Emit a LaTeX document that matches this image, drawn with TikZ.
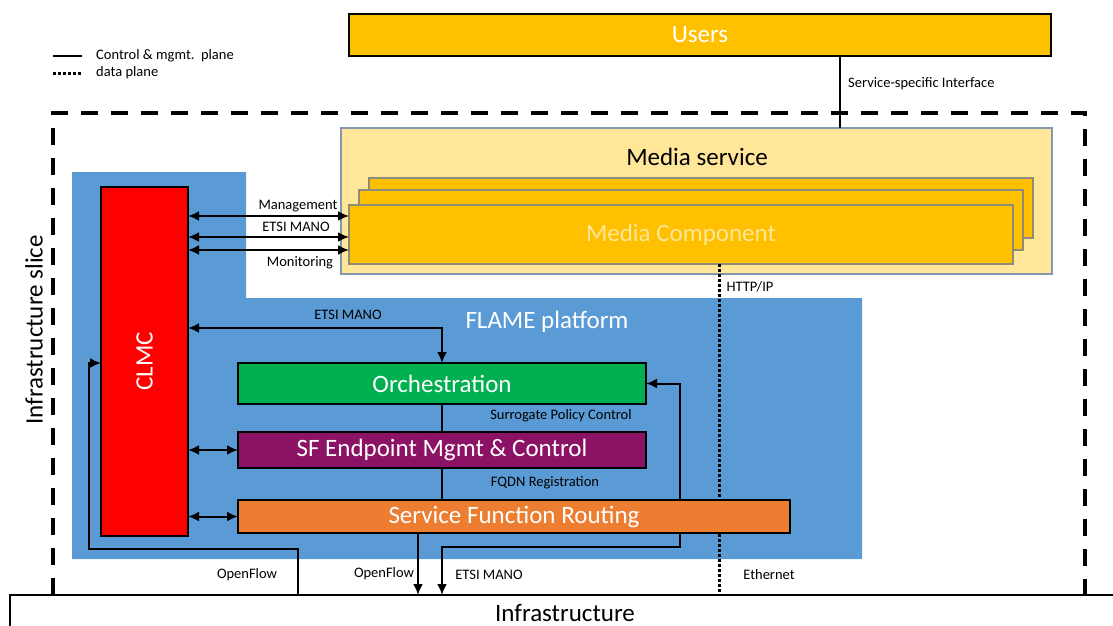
\documentclass[tikz,border=0pt]{standalone}
\usepackage{fontspec}
\setmainfont{Carlito}
\usetikzlibrary{arrows.meta}

\definecolor{usersyellow}{HTML}{FFC000}
\definecolor{mslight}{HTML}{FFE699}
\definecolor{msborder}{RGB}{132,151,176}
\definecolor{mcborder}{RGB}{140,140,120}
\definecolor{flameblue}{HTML}{5B9BD5}
\definecolor{clmcred}{HTML}{FF0000}
\definecolor{orchgreen}{HTML}{00B050}
\definecolor{sfepurple}{HTML}{8C1266}
\definecolor{sfrorange}{HTML}{ED7D31}

\tikzset{
  big/.style={inner sep=0pt, font=\fontsize{25}{30}\selectfont},
  lbl/.style={inner sep=0pt, font=\fontsize{14.5}{17}\selectfont},
  block/.style={draw=black, line width=1.5pt, rectangle, inner sep=0pt, outer sep=0pt,
    anchor=north west, text=white, font=\fontsize{25}{30}\selectfont},
  mcbox/.style={block, draw=mcborder, fill=usersyellow, minimum width=664pt, minimum height=60pt},
  ctl/.style={line width=2pt, black},
  both/.style={{Latex[length=11pt,width=10pt]}-{Latex[length=11pt,width=10pt]}},
  tip/.style={-{Latex[length=11pt,width=10pt]}},
  dataline/.style={line width=3pt, dash pattern=on 2.5pt off 2.5pt},
  slice/.style={line width=4pt, dash pattern=on 17pt off 13pt},
}

\begin{document}
\begin{tikzpicture}[x=1pt,y=-1pt]
  \useasboundingbox (0,0) rectangle (1113,626);

  % legend
  \coordinate (lg1a) at (53,56);
  \coordinate (lg1b) at (82,56);
  \coordinate (lg2a) at (53,73);
  \coordinate (lg2b) at (82,73);
  \draw[ctl] (lg1a) -- (lg1b);
  \draw[dataline] (lg2a) -- (lg2b);
  \node[lbl, anchor=west] (lgctl) at (96,56) {Control \& mgmt.\ \ plane};
  \node[lbl, anchor=west] (lgdata) at (96,73) {data plane};

  % infrastructure slice
  \draw[slice] (53,595) -- (53,113) -- (1085,113) -- (1085,595);
  \node[big, rotate=90] (slicetext) at (34,330) {Infrastructure slice};

  % FLAME platform area
  \fill[flameblue] (72,172) -- (246,172) -- (246,298) -- (862,298) -- (862,559) -- (72,559) -- cycle;
  \node[big, white] (flametext) at (547,322) {FLAME platform};

  % users and media service
  \node[block, fill=usersyellow, minimum width=702pt, minimum height=42pt] (users) at (349,14) {Users};
  \node[block, draw=msborder, fill=mslight, minimum width=711pt, minimum height=146pt] (ms) at (341,128) {};
  \node[big] (mstitle) at (697,157) {Media service};
  \node[mcbox] (mc3) at (369,178) {};
  \node[mcbox] (mc2) at (359,190) {};
  \node[mcbox, text=mslight, minimum height=59pt] (mc1) at (349,205) {Media Component};

  % platform blocks
  \node[block, fill=clmcred, minimum width=87pt, minimum height=349pt] (clmc) at (101,187) {};
  \node[big, white, rotate=90] (clmctext) at (clmc.center) {CLMC};
  \node[block, fill=orchgreen, minimum width=408pt, minimum height=41pt] (orch) at (238,363) {Orchestration};
  \node[block, fill=sfepurple, minimum width=408pt, minimum height=36pt] (sfe) at (238,432) {SF Endpoint Mgmt \& Control};
  \node[block, fill=white, text=black, minimum width=1110pt, minimum height=36pt] (infra) at (10,595) {Infrastructure};

  % connectors behind the routing block
  \coordinate (loopturn) at (680,547);
  \draw[ctl, both] (orch.east) -| (loopturn) -| (orch.south |- infra.north);
  \draw[dataline] (mc1.south -| 719,0) -- (infra.north -| 719,0);

  \node[block, fill=sfrorange, minimum width=552pt, minimum height=33pt] (sfr) at (238,500) {Service Function Routing};

  % control & mgmt connectors
  \foreach \yy in {216,237,250}
    \draw[ctl, both] (clmc.east |- 0,\yy) -- (mc1.west |- 0,\yy);
  \draw[ctl, both] (clmc.east |- 0,328) -| (orch.north);
  \draw[ctl] (orch.south) -- (sfe.north);
  \draw[ctl] (sfe.south) -- (sfe.south |- sfr.north);
  \draw[ctl, both] (clmc.east |- sfe.west) -- (sfe.west);
  \draw[ctl, both] (clmc.east |- sfr.west) -- (sfr.west);
  \draw[ctl, tip] (sfr.south -| 418,0) -- (infra.north -| 418,0);
  \coordinate (ofturn) at (89,549);
  \draw[ctl, tip] (infra.north -| 298,0) |- (ofturn) |- (clmc.west |- 0,363);
  \draw[line width=1.5pt] (users.south -| 840,0) -- (ms.north -| 840,0);

  % labels
  \node[lbl, anchor=west] (ssi) at (848,84) {Service-specific Interface};
  \node[lbl] (lmgmt) at (298,206) {Management};
  \node[lbl] (lmano1) at (296,227) {ETSI MANO};
  \node[lbl] (lmon) at (300,263) {Monitoring};
  \node[lbl] (lmano2) at (348,315) {ETSI MANO};
  \node[lbl] (lspc) at (561,416) {Surrogate Policy Control};
  \node[lbl] (lfqdn) at (545,483) {FQDN Registration};
  \node[lbl] (lhttp) at (750,287) {HTTP/IP};
  \node[lbl] (lof1) at (247,575) {OpenFlow};
  \node[lbl] (lof2) at (384,574) {OpenFlow};
  \node[lbl] (lmano3) at (489,575) {ETSI MANO};
  \node[lbl] (leth) at (769,575) {Ethernet};

\end{tikzpicture}
\end{document}
